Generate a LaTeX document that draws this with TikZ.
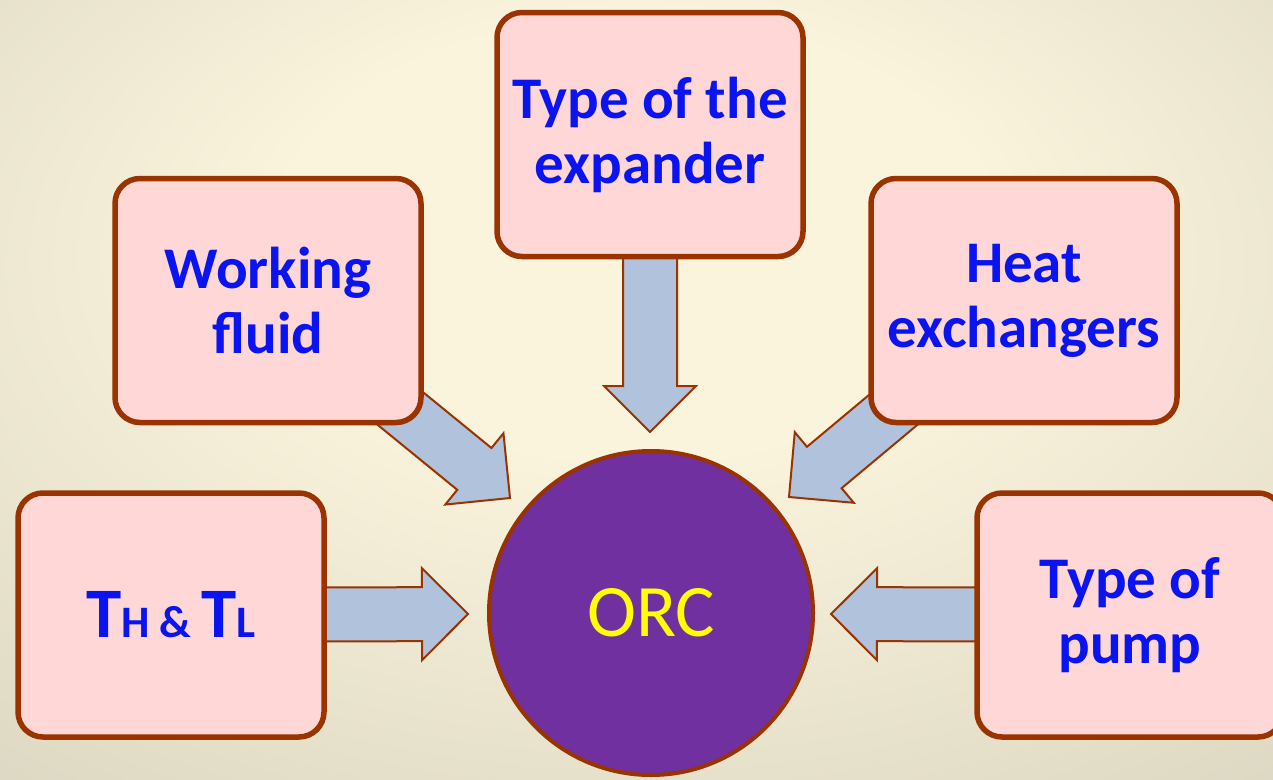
\documentclass[tikz,border=0pt]{standalone}
\usepackage{fontspec}
\setmainfont{Carlito}
\usetikzlibrary{calc}
\definecolor{bglight}{HTML}{FAF4DD}
\definecolor{bgdark}{HTML}{B8B4A1}
\definecolor{boxfill}{HTML}{FFD7D7}
\definecolor{boxline}{HTML}{993300}
\definecolor{arrfill}{HTML}{B0C2DC}
\definecolor{txtblue}{HTML}{0A14F0}
\definecolor{orcfill}{HTML}{7030A0}
\definecolor{orctext}{HTML}{FFFF00}
\pgfdeclareradialshading{bgshade}{\pgfpoint{0bp}{12bp}}{color(0bp)=(bglight); color(14bp)=(bglight); color(74bp)=(bgdark)}
\pgfdeclarelayer{bg}
\pgfdeclarelayer{arrows}
\pgfsetlayers{bg,arrows,main}
\newcommand{\blockarr}[3]{%
  \coordinate (#3b) at ($(#2)!46pt!(#1.center)$);
  \draw[blockarrow] ($(#1.center)!27pt!90:(#2)$) -- ($(#3b)!27pt!90:(#2)$) -- ($(#3b)!46pt!90:(#2)$) -- (#2) -- ($(#3b)!46pt!-90:(#2)$) -- ($(#3b)!27pt!-90:(#2)$) -- ($(#1.center)!27pt!-90:(#2)$) -- cycle;}
\begin{document}
\begin{tikzpicture}[x=1pt,y=-1pt,
  factor/.style={draw=boxline, line width=5.5pt, fill=boxfill, rounded corners=25pt,
    minimum width=306pt, minimum height=244pt, align=center, text=txtblue,
    font=\fontsize{59}{65}\selectfont\bfseries, inner sep=0pt},
  blockarrow/.style={draw=boxline, line width=2pt, fill=arrfill, line join=miter},
  core/.style={circle, draw=boxline, line width=4pt, fill=orcfill, minimum size=324pt,
    text=orctext, font=\fontsize{74}{80}\selectfont, inner sep=0pt}]
\useasboundingbox (0,0) rectangle (1273,779);
\begin{pgfonlayer}{bg}
  \shade[shading=bgshade] (0,0) rectangle (1273,779);
\end{pgfonlayer}
\node[core] (orc) at (651,613) {ORC};
\node[factor] (th) at (171,615) {{\fontsize{71}{70}\selectfont T}{\fontsize{45}{50}\selectfont H \& }{\fontsize{71}{70}\selectfont T}{\fontsize{45}{50}\selectfont L}};
\node[factor] (wf) at (268,300.5) {Working\\fluid};
\node[factor] (te) at (650,134.5) {Type of the\\expander};
\node[factor] (he) at (1024,300.5) {Heat\\exchangers};
\node[factor] (tp) at (1130,615) {Type of\\pump};
\coordinate (tth) at (468,614);
\coordinate (twf) at (510,498);
\coordinate (tte) at (650,432);
\coordinate (the) at (789,497);
\coordinate (ttp) at (831,614);
\begin{pgfonlayer}{arrows}
  \blockarr{th}{tth}{a1}
  \blockarr{wf}{twf}{a2}
  \blockarr{te}{tte}{a3}
  \blockarr{he}{the}{a4}
  \blockarr{tp}{ttp}{a5}
\end{pgfonlayer}
\end{tikzpicture}
\end{document}
